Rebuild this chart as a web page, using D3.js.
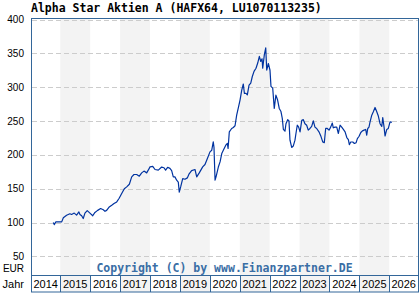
<!DOCTYPE html>
<html>
<head>
<meta charset="utf-8">
<script src="https://cdn.jsdelivr.net/npm/d3@7"></script>
<style>
  body { margin: 0; background: #fff; }
  svg { display: block; }
</style>
</head>
<body>
<div id="container"></div>
<script>
/* CONSTANTS AND GLOBALS */
const width = 420, height = 300;
const plot = {left: 31, right: 418, top: 18.5, bottom: 275, axisBottom: 292};

const title = "Alpha Star Aktien A (HAFX64, LU1070113235)";
const yTicks = [50, 100, 150, 200, 250, 300, 350, 400];
const years = [2014, 2015, 2016, 2017, 2018, 2019, 2020, 2021, 2022, 2023, 2024, 2025, 2026];

// price series
const dates = [
  "2014-10-07","2014-10-19","2014-11-08","2015-01-18","2015-02-07","2015-03-19","2015-04-28","2015-05-19",
  "2015-06-20","2015-07-19","2015-08-16","2015-08-29","2015-09-19","2015-10-08","2015-10-29","2015-11-26",
  "2015-12-29","2016-02-01","2016-02-28","2016-04-01","2016-05-08","2016-06-09","2016-06-30","2016-07-20",
  "2016-08-21","2016-09-20","2016-10-18","2016-11-20","2016-12-18","2017-01-20","2017-02-21","2017-03-22",
  "2017-04-23","2017-05-22","2017-06-19","2017-07-22","2017-08-23","2017-09-21","2017-10-19","2017-11-21",
  "2017-12-10","2018-01-01","2018-02-03","2018-03-03","2018-04-12","2018-05-23","2018-06-20","2018-07-10",
  "2018-08-04","2018-09-01","2018-09-22","2018-10-12","2018-11-01","2018-11-22","2018-12-12","2018-12-24",
  "2019-01-10","2019-02-04","2019-03-04","2019-04-01","2019-04-21","2019-05-24","2019-07-04","2019-07-25",
  "2019-08-25","2019-10-06","2019-11-03","2019-12-06","2020-01-03","2020-01-24","2020-02-12","2020-02-21",
  "2020-03-05","2020-03-17","2020-04-14","2020-05-05","2020-05-26","2020-06-14","2020-07-14","2020-08-02",
  "2020-08-11","2020-08-26","2020-09-24","2020-10-14","2020-11-04","2020-11-24","2020-12-14","2021-01-04",
  "2021-01-25","2021-02-13","2021-02-26","2021-03-18","2021-04-03","2021-04-24","2021-05-15","2021-06-03",
  "2021-06-24","2021-07-18","2021-08-08","2021-08-28","2021-09-14","2021-09-30","2021-10-08","2021-10-28",
  "2021-11-14","2021-11-26","2021-12-16","2022-01-05","2022-01-17","2022-02-07","2022-02-26","2022-03-18",
  "2022-04-08","2022-04-28","2022-05-19","2022-06-04","2022-06-17","2022-07-07","2022-07-19","2022-08-09",
  "2022-08-25","2022-09-06","2022-09-27","2022-10-16","2022-11-06","2022-11-18","2022-12-04","2022-12-21",
  "2023-01-07","2023-01-28","2023-02-16","2023-03-08","2023-03-29","2023-04-17","2023-05-08","2023-05-29",
  "2023-06-18","2023-07-08","2023-07-29","2023-08-26","2023-09-20","2023-10-11","2023-10-30","2023-11-16",
  "2023-12-06","2023-12-27","2024-01-16","2024-02-05","2024-02-17","2024-03-09","2024-03-30","2024-04-19",
  "2024-05-10","2024-05-30","2024-06-19","2024-07-10","2024-07-31","2024-08-19","2024-08-31","2024-09-17",
  "2024-10-12","2024-11-01","2024-11-22","2024-12-07","2024-12-28","2025-01-18","2025-02-07","2025-02-27",
  "2025-03-19","2025-03-31","2025-04-13","2025-04-28","2025-05-11","2025-06-01","2025-06-20","2025-07-11",
  "2025-08-01","2025-08-20","2025-09-10","2025-10-01","2025-10-13","2025-10-29","2025-11-10","2025-12-01",
  "2025-12-20","2026-01-10","2026-02-01"
];
const prices = [
  100, 97, 101, 101, 107, 110.8, 113, 112,
  114, 111, 115.7, 112, 110, 106, 114, 117.7,
  114, 110, 115, 118, 120.7, 119, 116.6, 118,
  123, 125.5, 128, 130.5, 135.5, 143, 150, 152.7,
  156.6, 167.5, 171, 171, 168.5, 173.4, 176, 173.4,
  177.4, 182.3, 183, 178.4, 177.4, 182, 181, 177.4,
  181.6, 180, 176.8, 167.5, 167.5, 162.6, 159.8, 145,
  152.6, 165, 164, 166, 171.4, 176.8, 178.4, 167.5,
  173.4, 182.3, 185.8, 195.6, 204.4, 206.8, 219.2, 211,
  162.6, 167.5, 182, 189.6, 202, 206.8, 214.3, 216.8,
  209.4, 234, 239, 240.5, 243, 258.7, 269.5, 281,
  295.8, 304.7, 291, 291, 288.7, 303, 306, 315.8,
  323.3, 328, 335.7, 345.4, 338, 342, 328, 348,
  358, 325.3, 335, 325, 301.2, 298.7, 268.6, 288.3,
  281, 268.6, 264, 254, 237.8, 235, 246, 252,
  250, 221.7, 211, 213, 221.7, 231.6, 243.8, 241,
  234, 251, 252, 246, 243.8, 236.5, 239, 242,
  250.3, 241, 239, 234, 227, 219.2, 218, 239,
  239, 236.5, 241, 247, 240, 241, 241, 231.6,
  243.8, 241, 237.6, 234, 225.6, 222.6, 215, 219,
  219, 216.8, 218, 224.1, 227.5, 233, 235.4, 236.5,
  237.6, 229, 239, 241, 248.8, 258.7, 263.6, 270,
  263.6, 257.4, 246, 242, 255, 241, 227.9, 237.6,
  239, 248.8, 248
];

const frameColor = "#336699";
const lineColor = "#0033a0";
const shadeColor = "#f3f3f3";

const parseDate = d3.timeParse("%Y-%m-%d");
const data = dates.map((d, i) => ({date: parseDate(d), value: prices[i]}));

const svg = d3.select("#container").append("svg")
    .attr("width", width)
    .attr("height", height);

/* SCALES */
const xScale = d3.scaleTime()
    .domain([new Date(2015, 0, 1), new Date(2026, 0, 1)])
    .range([60.3, 389.3]);

const yScale = d3.scaleLinear()
    .domain([50, 400])
    .range([256.4, 19.5]);

const yearStart = y => Math.max(plot.left, xScale(new Date(y, 0, 1)));
const yearEnd = y => Math.min(plot.right, xScale(new Date(y + 1, 0, 1)));

/* SHADED YEARS */
svg.append("g")
  .selectAll("rect")
  .data(years.filter(y => y % 2 === 1))
  .join("rect")
    .attr("x", d => yearStart(d))
    .attr("y", plot.top)
    .attr("width", d => yearEnd(d) - yearStart(d))
    .attr("height", plot.axisBottom - plot.top)
    .attr("fill", shadeColor);

/* GRID */
svg.append("g")
  .selectAll("line")
  .data(yTicks)
  .join("line")
    .attr("x1", plot.left + 1)
    .attr("x2", plot.right)
    .attr("y1", d => Math.round(yScale(d)) + 0.5)
    .attr("y2", d => Math.round(yScale(d)) + 0.5)
    .attr("stroke", "#cccccc")
    .attr("stroke-dasharray", "5,3");

svg.append("g")
  .selectAll("text")
  .data(yTicks)
  .join("text")
    .attr("x", 24)
    .attr("y", d => yScale(d) + 3.5)
    .attr("text-anchor", "end")
    .style("font-family", "'Liberation Sans', Arial, sans-serif")
    .style("font-size", "10px")
    .text(d => d);

svg.append("text")
    .attr("x", 24)
    .attr("y", 272)
    .attr("text-anchor", "end")
    .style("font-family", "'Liberation Sans', Arial, sans-serif")
    .style("font-size", "10px")
    .text("EUR");

/* COPYRIGHT */
svg.append("text")
    .attr("x", (plot.left + plot.right) / 2)
    .attr("y", 271.5)
    .attr("text-anchor", "middle")
    .style("font-family", "'DejaVu Sans Mono', monospace")
    .style("font-weight", "bold")
    .style("font-size", "11.5px")
    .style("fill", "#3a6ea5")
    .text("Copyright (C) by www.Finanzpartner.DE");

/* PRICE LINE */
const line = d3.line()
    .x(d => xScale(d.date))
    .y(d => yScale(d.value));

svg.append("path")
    .datum(data)
    .attr("fill", "none")
    .attr("stroke", lineColor)
    .attr("stroke-width", 1.2)
    .attr("stroke-linejoin", "round")
    .attr("d", line);

/* YEAR BOXES */
const yearBox = svg.append("g")
  .selectAll("g")
  .data(years)
  .join("g");

yearBox.append("line")
    .attr("x1", d => Math.round(yearStart(d)) + 0.5)
    .attr("x2", d => Math.round(yearStart(d)) + 0.5)
    .attr("y1", plot.bottom)
    .attr("y2", plot.axisBottom)
    .attr("stroke", frameColor);

yearBox.append("text")
    .attr("x", d => (yearStart(d) + yearEnd(d)) / 2)
    .attr("y", 288)
    .attr("text-anchor", "middle")
    .style("font-family", "'Liberation Sans', Arial, sans-serif")
    .style("font-size", "11px")
    .text(d => d);

svg.append("text")
    .attr("x", 24)
    .attr("y", 288)
    .attr("text-anchor", "end")
    .style("font-family", "'Liberation Sans', Arial, sans-serif")
    .style("font-size", "11px")
    .text("Jahr");

/* FRAME */
svg.append("rect")
    .attr("x", plot.left + 0.5)
    .attr("y", plot.top)
    .attr("width", plot.right - plot.left)
    .attr("height", plot.axisBottom - plot.top)
    .attr("fill", "none")
    .attr("stroke", frameColor);

svg.append("line")
    .attr("x1", plot.left)
    .attr("x2", plot.right + 0.5)
    .attr("y1", plot.bottom + 0.5)
    .attr("y2", plot.bottom + 0.5)
    .attr("stroke", frameColor);

/* TITLE */
svg.append("text")
    .attr("x", 31)
    .attr("y", 12)
    .style("font-family", "'DejaVu Sans Mono', monospace")
    .style("font-weight", "bold")
    .style("font-size", "11.5px")
    .text(title);
</script>
</body>
</html>
